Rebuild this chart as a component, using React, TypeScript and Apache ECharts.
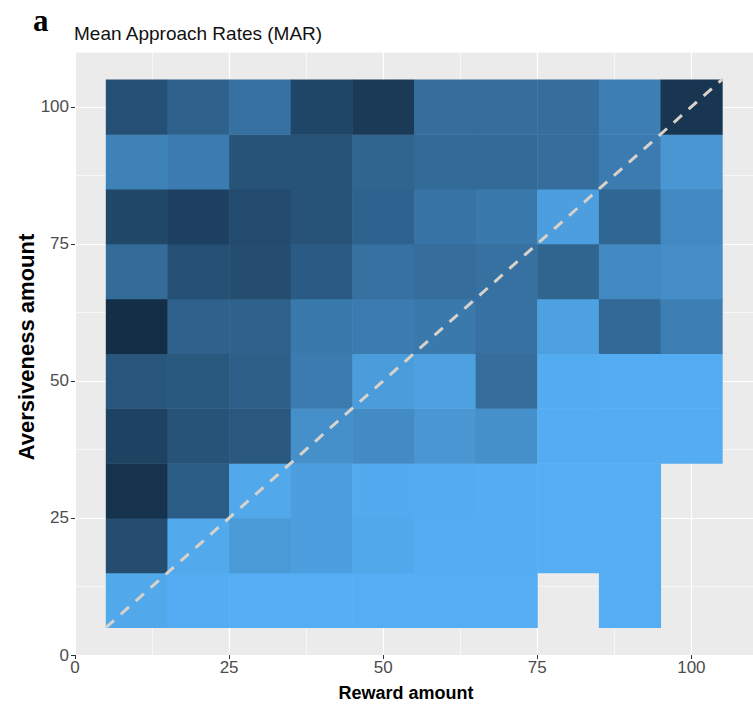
import React, { useEffect, useRef } from "react";
import * as echarts from "echarts";

// Reward amount (x) and aversiveness amount (y) tile centres
const rewardLevels = [10, 20, 30, 40, 50, 60, 70, 80, 90, 100];
const aversivenessLevels = [10, 20, 30, 40, 50, 60, 70, 80, 90, 100];

// Mean approach rates, one row per aversiveness level (bottom -> top); null = no tile
const marAv10 = [0.93, 0.97, 0.98, 0.98, 0.98, 0.98, 0.98, null, 0.98, null];
const marAv20 = [0.25, 0.94, 0.83, 0.86, 0.93, 0.97, 0.97, 0.98, 0.98, null];
const marAv30 = [0.05, 0.37, 0.93, 0.86, 0.95, 0.96, 0.97, 0.98, 0.98, null];
const marAv40 = [0.17, 0.3, 0.33, 0.75, 0.72, 0.8, 0.75, 0.97, 0.97, 0.97];
const marAv50 = [0.32, 0.34, 0.39, 0.6, 0.84, 0.88, 0.5, 0.96, 0.97, 0.97];
const marAv60 = [0.02, 0.4, 0.4, 0.58, 0.6, 0.58, 0.52, 0.88, 0.46, 0.62];
const marAv70 = [0.48, 0.27, 0.25, 0.36, 0.52, 0.5, 0.52, 0.43, 0.7, 0.74];
const marAv80 = [0.21, 0.16, 0.24, 0.3, 0.42, 0.54, 0.58, 0.86, 0.44, 0.7];
const marAv90 = [0.65, 0.6, 0.3, 0.3, 0.43, 0.47, 0.47, 0.5, 0.6, 0.8];
const marAv100 = [0.27, 0.4, 0.52, 0.2, 0.11, 0.5, 0.5, 0.5, 0.63, 0.08];
const marRows = [marAv10, marAv20, marAv30, marAv40, marAv50, marAv60, marAv70, marAv80, marAv90, marAv100];

const tickValues = [0, 25, 50, 75, 100];
const diagonal = [5, 105];
const TILE = 10;

export default function App() {
  const ref = useRef<HTMLDivElement>(null);
  useEffect(() => {
    document.body.style.margin = "0";
    const chart = echarts.init(ref.current!, undefined, { renderer: "svg" });

    const cells: number[][] = [];
    marRows.forEach((row, yi) => {
      row.forEach((v, xi) => {
        if (v !== null && v !== undefined) cells.push([rewardLevels[xi], aversivenessLevels[yi], v]);
      });
    });

    const font = "'Liberation Sans', Arial, sans-serif";
    const majorAxis = (isX: boolean) => ({
      type: "value",
      min: 0,
      max: 110,
      interval: 25,
      axisLine: { show: false },
      axisTick: { show: true, length: 4, lineStyle: { color: "#333333", width: 1 }, customValues: tickValues },
      axisLabel: {
        show: true,
        color: "#4D4D4D",
        fontSize: 17,
        fontFamily: font,
        margin: isX ? 4 : 6,
        customValues: tickValues,
      },
      splitLine: { show: true, lineStyle: { color: "#FFFFFF", width: 1.2 } },
    });
    const minorAxis = () => ({
      type: "value",
      min: 0,
      max: 110,
      interval: 12.5,
      axisLine: { show: false },
      axisTick: { show: false },
      axisLabel: { show: false },
      splitLine: { show: true, lineStyle: { color: "#FFFFFF", width: 0.6 } },
    });

    chart.setOption({
      animation: false,
      backgroundColor: "#FFFFFF",
      grid: {
        left: 75,
        top: 52,
        width: 686,
        height: 603,
        show: true,
        backgroundColor: "#EBEBEB",
        borderWidth: 0,
      },
      xAxis: [majorAxis(true), minorAxis()],
      yAxis: [majorAxis(false), minorAxis()],
      visualMap: {
        type: "continuous",
        show: false,
        min: 0,
        max: 1,
        dimension: 2,
        seriesIndex: 0,
        inRange: { color: ["#132B43", "#56B1F7"] },
      },
      graphic: [
        {
          type: "text",
          left: 33,
          top: 5,
          style: { text: "a", font: "bold 31px 'Liberation Serif', 'DejaVu Serif', serif", fill: "#000" },
        },
        {
          type: "text",
          left: 74,
          top: 24,
          style: { text: "Mean Approach Rates (MAR)", font: "19px 'Liberation Sans', Arial, sans-serif", fill: "#111" },
        },
        {
          type: "text",
          x: 406,
          y: 693,
          style: {
            text: "Reward amount",
            font: "bold 18px 'Liberation Sans', Arial, sans-serif",
            fill: "#000",
            align: "center",
            verticalAlign: "middle",
          },
        },
        {
          type: "text",
          x: 26,
          y: 347,
          rotation: Math.PI / 2,
          style: {
            text: "Aversiveness amount",
            font: "bold 22px 'Liberation Sans', Arial, sans-serif",
            fill: "#000",
            align: "center",
            verticalAlign: "middle",
          },
        },
      ],
      series: [
        {
          type: "custom",
          xAxisIndex: 0,
          yAxisIndex: 0,
          data: cells,
          encode: { x: 0, y: 1 },
          clip: true,
          z: 2,
          renderItem: (params: any, api: any) => {
            const x = api.value(0);
            const y = api.value(1);
            const p0 = api.coord([x - TILE / 2, y + TILE / 2]);
            const p1 = api.coord([x + TILE / 2, y - TILE / 2]);
            return {
              type: "rect",
              shape: { x: p0[0], y: p0[1], width: p1[0] - p0[0] + 0.5, height: p1[1] - p0[1] + 0.5 },
              style: { fill: api.visual("color") },
            };
          },
        },
        {
          type: "line",
          xAxisIndex: 0,
          yAxisIndex: 0,
          data: [
            [diagonal[0], diagonal[0]],
            [diagonal[1], diagonal[1]],
          ],
          symbol: "none",
          z: 5,
          lineStyle: { color: "#D8D2CB", width: 3, type: [11, 9] },
        },
      ],
    });
    return () => chart.dispose();
  }, []);
  return <div ref={ref} style={{ width: 753, height: 708 }} />;
}
